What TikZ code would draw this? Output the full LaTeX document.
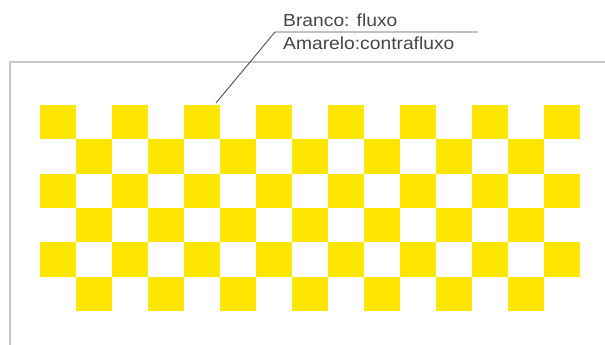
\documentclass[tikz,border=0pt]{standalone}
\usepackage{fontspec}
\setmainfont{Liberation Sans}
\definecolor{chk}{RGB}{255,230,0}
\definecolor{framegray}{RGB}{200,200,200}
\definecolor{leadgray}{RGB}{80,80,80}
\definecolor{txtgray}{RGB}{70,70,70}
\begin{document}
\begin{tikzpicture}[x=1pt,y=-1pt,
  cell/.style={fill=chk,draw=none},
  framestyle/.style={draw=framegray,line width=1.4pt},
  leader/.style={draw=leadgray,line width=0.9pt},
  lbl/.style={anchor=base west,inner sep=0pt,text=txtgray,font=\fontsize{17.5}{20}\selectfont,xscale=1.1}]
\useasboundingbox (0,0) rectangle (605,345);
\fill[white] (0,0) rectangle (605,345);
% frame
\draw[framestyle] (605,62) -- (10,62) -- (10,345);
% checkerboard: 15 columns x 6 rows
\foreach \r in {0,...,5}{
  \foreach \c in {0,...,14}{
    \pgfmathtruncatemacro{\myparity}{mod(\r+\c,2)}
    \ifnum\myparity=0
      \fill[cell] ({40+36*\c},{105+34.33*\r}) rectangle ({40+36*(\c+1)},{105+34.33*(\r+1)});
    \fi
  }
}
% labels
\node[lbl] (t1) at (283,27) {Branco: fluxo};
\node[lbl] (t2) at (283,50) {Amarelo:contrafluxo};
\coordinate (tip) at (216,103);
\coordinate (kink) at (275,32);
\coordinate (lend) at (478,32);
\draw[leader] (tip) -- (kink) -- (lend);
\end{tikzpicture}
\end{document}
